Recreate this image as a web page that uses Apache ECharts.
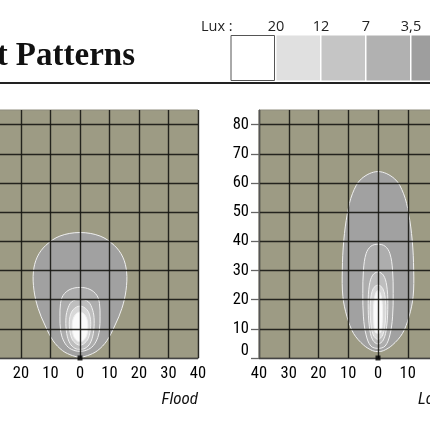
<!DOCTYPE html>
<html><head><meta charset="utf-8">
<script src="https://cdn.jsdelivr.net/npm/echarts@6/dist/echarts.min.js"></script>
<style>html,body{margin:0;padding:0;background:#fff}#c{width:430px;height:430px}</style>
</head><body><div id="c"></div>
<script>
// ---- data ----
const xTicks = [-40, -30, -20, -10, 0, 10, 20, 30, 40];
const yTicks = [0, 10, 20, 30, 40, 50, 60, 70, 80];
const luxLabels = ['20', '12', '7', '3,5'];
const legendColors = ['#ffffff', '#e0e0e0', '#c5c5c5', '#b1b1b1', '#9e9e9e'];
// fill colours of the nested zones, outermost first
const zoneColors = ['#a1a1a1', '#adadad', '#bebebe', '#d8d8d8', '#fbfbfb'];

// Contours are symmetric about x = 0: right half [x, y] from bottom to top (metres)
const flood1 = [[0,0.3],[2.5,0.8],[5.9,2.5],[9.1,5.9],[11.9,11.3],[14.2,17],[15.6,23.2],[15.8,29.5],[14.5,34.6],[11.6,38.6],[6.8,41.8],[0,43]];
const flood2 = [[0,2.3],[1.7,2.5],[4,3.7],[5.7,6.2],[6.6,9.6],[6.8,14.1],[6.6,18.7],[5.7,21.5],[3.4,23.5],[0,24.2]];
const flood3 = [[0,3],[1.7,3.3],[3.4,5],[4.5,8.4],[4.8,13],[4.3,16.4],[2.8,19.3],[0,20.1]];
const flood4 = [[0,4.4],[1.2,4.8],[2.8,6.7],[3.6,10.7],[3.4,14.1],[2.3,16.6],[0,17.8]];
const flood5 = [[0,5.6],[1,5.9],[2.3,7.9],[2.6,11.9],[1.7,14.7],[0,15.8]];

const long1 = [[0,2.2],[1.8,2.5],[4.8,4.4],[8.2,8.4],[10.4,14.1],[11.8,21],[12,30.1],[11.5,40.3],[10.3,49.5],[8.6,56.3],[5.6,61.4],[0,63.9]];
const long2 = [[0,3.3],[2.4,4.1],[4,7.9],[4.9,14.1],[5.1,22.1],[4.9,30.1],[4,35.8],[2.4,38.3],[0,39]];
const long3 = [[0,4.8],[1.8,6.2],[2.9,10.7],[3.3,18.7],[2.9,25],[1.8,28.4],[0,29.5]];
const long4 = [[0,6.4],[1.6,7.9],[2.5,13],[2.5,19.8],[1.6,23.8],[0,25]];
const long5 = [[0,8.4],[1,9],[1.4,11.9],[1.5,17.5],[0.9,21.9],[0,23.2]];

const floodZones = [flood1, flood2, flood3, flood4, flood5];
const longZones = [long1, long2, long3, long4, long5];
const lampPos = [[0, 0]];
const panelNames = ['Flood', 'Long Range'];

// ---- chart ----
const AX_FONT = "'Liberation Sans Narrow', 'Roboto Condensed', Roboto, sans-serif";
const GRID_LINE = {color: 'rgba(22,22,18,0.9)', width: 1.4};
const chart = echarts.init(document.getElementById('c'), null, {renderer: 'canvas'});

function zoneRenderer(zones) {
  return function (params, api) {
    const half = zones[params.dataIndex];
    const right = half.map(p => api.coord([p[0], p[1]]));
    const left = half.slice(1, -1).reverse().map(p => api.coord([-p[0], p[1]]));
    return {
      type: 'polygon',
      shape: {points: right.concat(left), smooth: 0.35},
      style: {fill: zoneColors[params.dataIndex], stroke: '#f0f0f0', lineWidth: 1}
    };
  };
}

function xAxisFor(i) {
  return {
    type: 'value', gridIndex: i, min: -40, max: 40, interval: 10, z: 3,
    axisLine: {show: true, onZero: false, lineStyle: {color: '#444', width: 1.2}},
    axisTick: {show: false},
    axisLabel: {margin: 7, fontSize: 16.5, color: '#000', fontFamily: AX_FONT,
      formatter: v => String(Math.abs(v))},
    splitLine: {show: true, lineStyle: GRID_LINE}
  };
}
function yAxisFor(i) {
  return {
    type: 'value', gridIndex: i, min: 0, max: 85, interval: 10, z: 3,
    axisLine: {show: true, onZero: false, lineStyle: {color: '#555', width: 1.2}},
    axisTick: {show: true, length: 8, customValues: yTicks, lineStyle: {color: '#666', width: 1.3}},
    axisLabel: {margin: 10, fontSize: 16.5, color: '#000', fontFamily: AX_FONT, customValues: yTicks,
      formatter: v => v === 0 ? '{z|0}' : String(v),
      rich: {z: {fontSize: 16.5, color: '#000', fontFamily: AX_FONT, padding: [0, 0, 15, 0]}}},
    splitLine: {show: true, lineStyle: GRID_LINE}
  };
}

const legendX = [231, 276.5, 321.5, 366.5, 411.5];
const graphics = [
  {type: 'text', x: 135, y: 56, style: {text: 'Light Patterns', align: 'right', verticalAlign: 'middle',
    font: "bold 33px 'Liberation Serif', serif", fill: '#111'}},
  {type: 'line', shape: {x1: 0, y1: 83, x2: 430, y2: 83}, style: {stroke: '#222', lineWidth: 2}},
  {type: 'text', x: 201, y: 27, style: {text: 'Lux :', align: 'left', verticalAlign: 'middle',
    font: "14.5px 'Open Sans', sans-serif", fill: '#222'}},
  {type: 'text', x: 198, y: 400, style: {text: panelNames[0], align: 'right', verticalAlign: 'middle',
    font: "italic 17px " + AX_FONT, fill: '#111'}},
  {type: 'text', x: 418, y: 400, style: {text: panelNames[1], align: 'left', verticalAlign: 'middle',
    font: "italic 17px " + AX_FONT, fill: '#111'}}
];
legendColors.forEach((c, i) => {
  graphics.push({type: 'rect', shape: {x: legendX[i], y: 35.5, width: 43.5, height: 45},
    style: {fill: c, stroke: i === 0 ? '#555' : null, lineWidth: 1}});
});
luxLabels.forEach((t, i) => {
  graphics.push({type: 'text', x: legendX[i + 1] - 0.5, y: 27, style: {text: t, align: 'center', verticalAlign: 'middle',
    font: "14.5px 'Open Sans', sans-serif", fill: '#222'}});
});

chart.setOption({
  animation: false,
  backgroundColor: '#ffffff',
  grid: [
    {left: -38, top: 110, width: 236, height: 248, containLabel: false, outerBoundsMode: 'none',
     show: true, backgroundColor: '#9d9b84', borderColor: '#8e8c7c', borderWidth: 1},
    {left: 259, top: 110, width: 238, height: 248, containLabel: false, outerBoundsMode: 'none',
     show: true, backgroundColor: '#9d9b84', borderColor: '#8e8c7c', borderWidth: 1}
  ],
  xAxis: [xAxisFor(0), xAxisFor(1)],
  yAxis: [yAxisFor(0), yAxisFor(1)],
  graphic: graphics,
  series: [
    {type: 'custom', xAxisIndex: 0, yAxisIndex: 0, z: 2, renderItem: zoneRenderer(floodZones), data: floodZones.map((z, i) => i), clip: false},
    {type: 'custom', xAxisIndex: 1, yAxisIndex: 1, z: 2, renderItem: zoneRenderer(longZones), data: longZones.map((z, i) => i), clip: false},
    {type: 'scatter', xAxisIndex: 0, yAxisIndex: 0, z: 5, clip: false, symbol: 'rect', symbolSize: 5, itemStyle: {color: '#000'}, data: lampPos},
    {type: 'scatter', xAxisIndex: 1, yAxisIndex: 1, z: 5, clip: false, symbol: 'rect', symbolSize: 5, itemStyle: {color: '#000'}, data: lampPos}
  ]
});
</script></body></html>
